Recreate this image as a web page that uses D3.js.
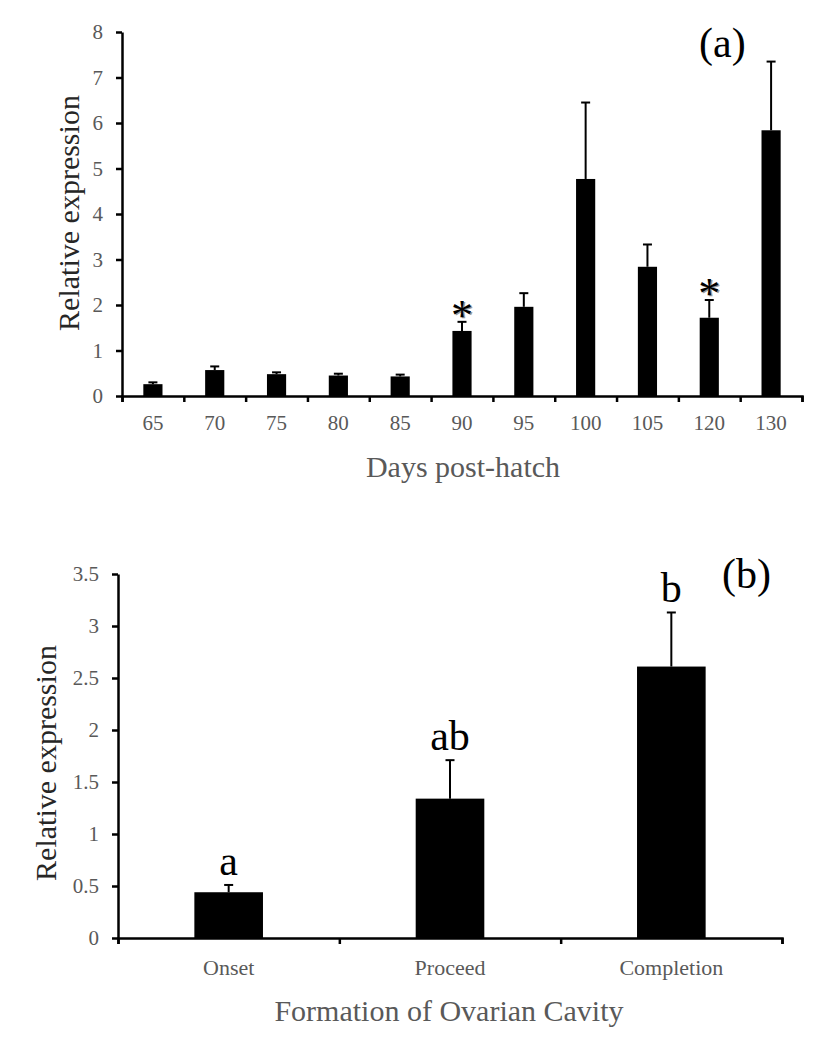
<!DOCTYPE html>
<html>
<head>
<meta charset="utf-8">
<script src="https://cdn.jsdelivr.net/npm/d3@7"></script>
<style>
  html, body { margin: 0; padding: 0; background: #fff; }
  svg, svg text { font-family: "Liberation Serif", "DejaVu Serif", "Noto Serif", serif !important; }
</style>
</head>
<body>
<svg id="chart" width="827" height="1048"></svg>
<script>
// ---- Data: panel (a) ----
const daysCategories = ["65", "70", "75", "80", "85", "90", "95", "100", "105", "120", "130"];
const daysValues     = [0.26, 0.57, 0.48, 0.45, 0.43, 1.43, 1.96, 4.77, 2.84, 1.72, 5.84];
const daysErrors     = [0.04, 0.08, 0.04, 0.04, 0.04, 0.20, 0.30, 1.68, 0.49, 0.39, 1.51];
const daysMarks      = ["", "", "", "", "", "*", "", "", "", "*", ""];
const daysYTicks     = [0, 1, 2, 3, 4, 5, 6, 7, 8];

// ---- Data: panel (b) ----
const stageCategories = ["Onset", "Proceed", "Completion"];
const stageValues     = [0.44, 1.34, 2.61];
const stageErrors     = [0.07, 0.37, 0.52];
const stageLetters    = ["a", "ab", "b"];
const stageYTicks     = [0, 0.5, 1, 1.5, 2, 2.5, 3, 3.5];

const svg = d3.select("#chart");
const TICK_GRAY = "#595959";
const FONT = "Liberation Serif";

function panel(opts) {
  const g = svg.append("g");
  const x = d3.scaleBand().domain(opts.cats).range([opts.x0, opts.x1])
    .paddingInner(0.69).paddingOuter(0.345);
  const y = d3.scaleLinear().domain([0, opts.yMax]).range([opts.y0, opts.y1]);
  const xb = d3.scaleLinear().domain([0, opts.cats.length]).range([opts.x0, opts.x1]);

  // bars
  g.selectAll("rect.bar").data(opts.vals).join("rect")
    .attr("x", (d, i) => x(opts.cats[i]))
    .attr("width", x.bandwidth())
    .attr("y", d => y(d))
    .attr("height", d => y(0) - y(d))
    .attr("fill", "#000");

  // error bars (upper only)
  const cap = opts.cap;
  opts.vals.forEach((v, i) => {
    const cx = x(opts.cats[i]) + x.bandwidth() / 2;
    const top = y(v + opts.errs[i]);
    g.append("line").attr("x1", cx).attr("x2", cx).attr("y1", y(v)).attr("y2", top)
      .attr("stroke", "#000").attr("stroke-width", 2);
    g.append("line").attr("x1", cx - cap / 2).attr("x2", cx + cap / 2).attr("y1", top).attr("y2", top)
      .attr("stroke", "#000").attr("stroke-width", 2);
  });

  // y axis
  const ya = g.append("g").attr("transform", `translate(${opts.x0},0)`)
    .call(d3.axisLeft(y).tickValues(opts.yTicks).tickSizeInner(6).tickSizeOuter(0).tickPadding(13)
      .tickFormat(d3.format("")));
  ya.attr("font-family", FONT);
  ya.select(".domain").attr("stroke-width", 2.5);
  ya.selectAll(".tick line").attr("stroke-width", 2.5);
  ya.selectAll(".tick text").attr("font-size", 21).attr("fill", TICK_GRAY);

  // x axis: boundary ticks
  const xa = g.append("g").attr("transform", `translate(0,${opts.y0})`)
    .call(d3.axisBottom(xb).tickValues(d3.range(opts.cats.length + 1)).tickSizeInner(6).tickSizeOuter(6)
      .tickFormat(""));
  xa.select(".domain").attr("stroke-width", 2.5);
  xa.selectAll(".tick line").attr("stroke-width", 2.5);

  // x labels at band centers
  const xl = g.append("g").attr("transform", `translate(0,${opts.y0})`)
    .call(d3.axisBottom(x).tickSize(0).tickPadding(0));
  xl.attr("font-family", FONT);
  xl.select(".domain").remove();
  xl.selectAll(".tick text").attr("dy", null).attr("y", opts.xLabelBase)
    .attr("font-size", opts.xLabelSize).attr("fill", TICK_GRAY);

  // annotations above error caps
  opts.marks.forEach((m, i) => {
    if (!m) return;
    const cx = x(opts.cats[i]) + x.bandwidth() / 2;
    const top = y(opts.vals[i] + opts.errs[i]);
    if (opts.markShadow) {
      g.append("text").attr("x", cx + 1.5).attr("y", top + opts.markGap + 1.5)
        .attr("text-anchor", "middle").attr("font-size", opts.markSize)
        .attr("fill", "#9a9a9a").text(m);
    }
    g.append("text").attr("x", cx).attr("y", top + opts.markGap)
      .attr("text-anchor", "middle").attr("font-size", opts.markSize)
      .attr("fill", "#000").text(m);
  });

  // axis titles
  g.append("text")
    .attr("transform", `translate(${opts.yTitleX},${(opts.y0 + opts.y1) / 2 + opts.yTitleShift}) rotate(-90)`)
    .attr("text-anchor", "middle").attr("font-size", 30).attr("fill", "#262626")
    .text("Relative expression");
  g.append("text").attr("x", opts.xTitleX).attr("y", opts.xTitleY)
    .attr("text-anchor", "middle").attr("font-size", 30).attr("fill", TICK_GRAY)
    .text(opts.xTitle);

  // panel label
  g.append("text").attr("x", opts.tagX).attr("y", opts.tagY)
    .attr("font-size", 42).attr("fill", "#000").text(opts.tag);
}

panel({
  cats: daysCategories, vals: daysValues, errs: daysErrors, marks: daysMarks,
  yTicks: daysYTicks, yMax: 8,
  x0: 122, x1: 802, y0: 396, y1: 32,
  cap: 9, xLabelBase: 34, xLabelSize: 21,
  markSize: 44, markGap: 8, markShadow: true,
  yTitleX: 79, yTitleShift: -1,
  xTitle: "Days post-hatch", xTitleX: 463, xTitleY: 477,
  tag: "(a)", tagX: 699, tagY: 57
});

panel({
  cats: stageCategories, vals: stageValues, errs: stageErrors, marks: stageLetters,
  yTicks: stageYTicks, yMax: 3.5,
  x0: 118, x1: 782, y0: 938, y1: 574,
  cap: 9, xLabelBase: 37, xLabelSize: 22,
  markSize: 42, markGap: -10, markShadow: false,
  yTitleX: 56, yTitleShift: 7,
  xTitle: "Formation of Ovarian Cavity", xTitleX: 449, xTitleY: 1021,
  tag: "(b)", tagX: 722, tagY: 588
});
</script>
</body>
</html>
